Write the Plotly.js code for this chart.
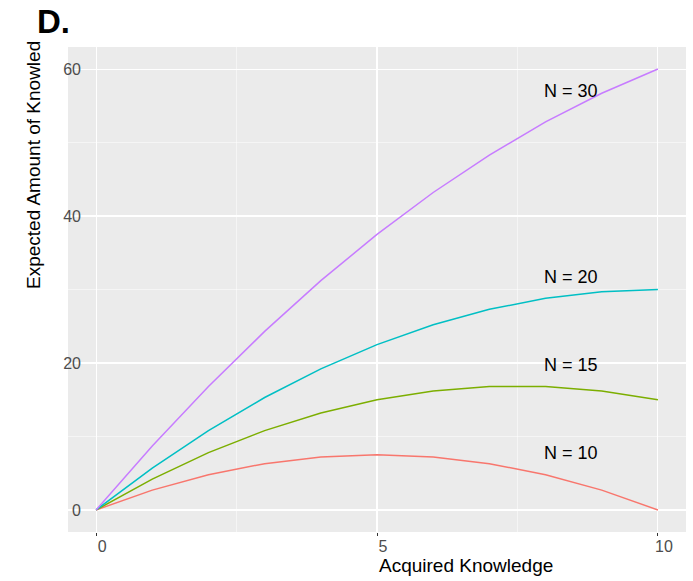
<!DOCTYPE html>
<html>
<head>
<meta charset="utf-8">
<script src="https://cdn.plot.ly/plotly-3.0.1.min.js"></script>
<style>html,body{margin:0;padding:0;background:#fff;}#chart{width:693px;height:581px;}</style>
</head>
<body>
<div id="chart"></div>
<script>
const acquired = [0, 1, 2, 3, 4, 5, 6, 7, 8, 9, 10];
const seriesN10 = [0, 2.7, 4.8, 6.3, 7.2, 7.5, 7.2, 6.3, 4.8, 2.7, 0];
const seriesN15 = [0, 4.2, 7.8, 10.8, 13.2, 15, 16.2, 16.8, 16.8, 16.2, 15];
const seriesN20 = [0, 5.7, 10.8, 15.3, 19.2, 22.5, 25.2, 27.3, 28.8, 29.7, 30];
const seriesN30 = [0, 8.7, 16.8, 24.3, 31.2, 37.5, 43.2, 48.3, 52.8, 56.7, 60];
const seriesNames = ["N = 10", "N = 15", "N = 20", "N = 30"];
const seriesColors = ["#F8766D", "#7CAE00", "#00BFC4", "#C77CFF"];
const labelX = [8.45, 8.45, 8.45, 8.45];
const labelY = [7.8, 19.7, 31.7, 57];
const xTicks = [0, 5, 10];
const yTicks = [0, 20, 40, 60];

const allSeries = [seriesN10, seriesN15, seriesN20, seriesN30];
const traces = allSeries.map((ys, i) => ({
  x: acquired, y: ys, type: "scatter", mode: "lines",
  line: {color: seriesColors[i], width: 1.5}, name: seriesNames[i],
  hoverinfo: "skip"
}));

const font = "Liberation Sans, Arial, sans-serif";
const annotations = seriesNames.map((t, i) => ({
  x: labelX[i], y: labelY[i], xref: "x", yref: "y", text: t, showarrow: false,
  font: {family: font, size: 18, color: "#000"}, xanchor: "center", yanchor: "middle"
}));
annotations.push({
  xref: "paper", yref: "paper", x: (465.5 - 68) / 618, y: (532 - 565) / 485, text: "Acquired Knowledge",
  showarrow: false, xanchor: "center", yanchor: "middle",
  font: {family: font, size: 19, color: "#000"}
});
annotations.push({
  xref: "paper", yref: "paper", x: (33 - 68) / 618, y: (532 - 165) / 485, text: "Expected Amount of Knowled",
  showarrow: false, xanchor: "center", yanchor: "middle", textangle: -90,
  font: {family: font, size: 19, color: "#000"}
});

const layout = {
  width: 693, height: 581,
  margin: {l: 68, r: 7, t: 47, b: 49},
  paper_bgcolor: "#ffffff", plot_bgcolor: "#EBEBEB",
  showlegend: false,
  title: {text: "<b>D.</b>", x: 37/693, xref: "container", xanchor: "left",
          y: 1 - 21/581, yref: "container", yanchor: "middle",
          font: {family: font, size: 33, color: "#000"}},
  xaxis: {
    range: [-0.5, 10.5], tickvals: xTicks, ticktext: xTicks.map(String),
    showgrid: true, gridcolor: "#ffffff", gridwidth: 1.1, zeroline: false,
    showline: false, ticks: "outside", ticklen: 3, tickwidth: 1, tickcolor: "#333333",
    ticklabelshift: 6, ticklabelstandoff: -3,
    tickfont: {family: font, size: 16, color: "#4D4D4D"},
    minor: {tickvals: [2.5, 7.5], showgrid: true, gridcolor: "#ffffff", gridwidth: 0.5, ticks: ""}
  },
  yaxis: {
    range: [-3, 63], tickvals: yTicks, ticktext: yTicks.map(String),
    showgrid: true, gridcolor: "#ffffff", gridwidth: 1.1, zeroline: false,
    showline: false, ticks: "", ticklabelstandoff: -14,
    tickfont: {family: font, size: 16, color: "#4D4D4D"},
    minor: {tickvals: [10, 30, 50], showgrid: true, gridcolor: "#ffffff", gridwidth: 0.5, ticks: ""}
  },
  annotations: annotations
};

Plotly.newPlot("chart", traces, layout, {displayModeBar: false, staticPlot: true});
</script>
</body>
</html>
